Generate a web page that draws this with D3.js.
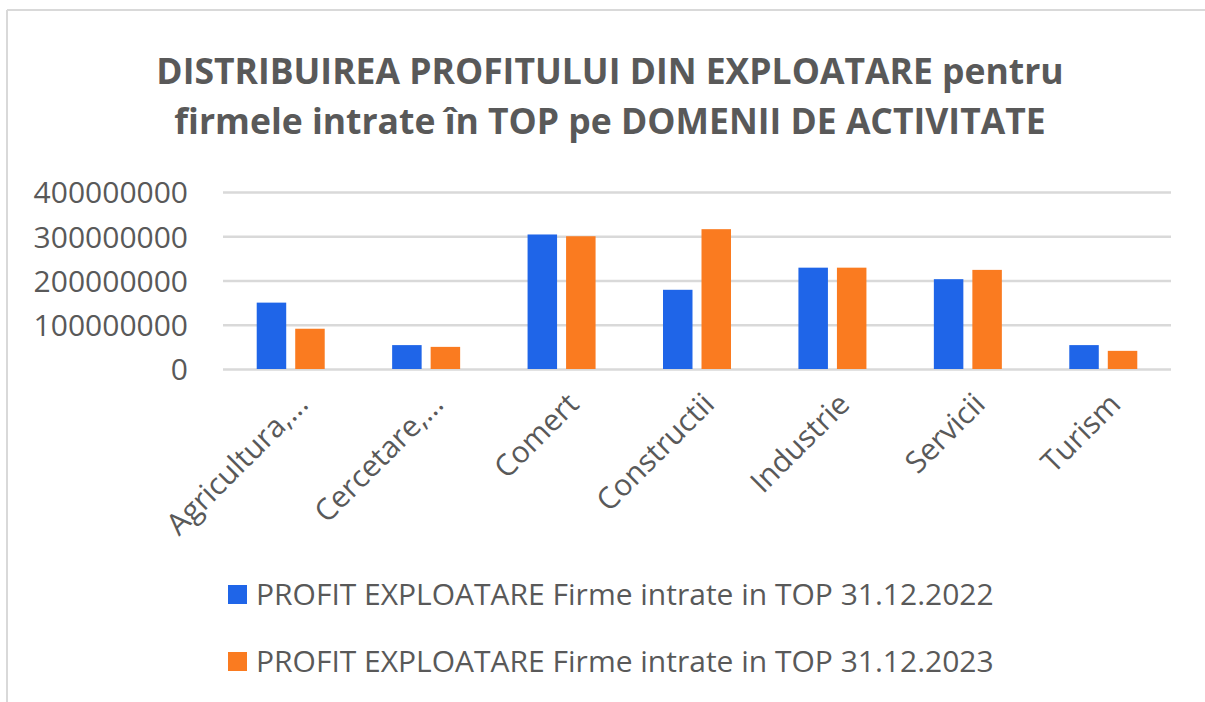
<!DOCTYPE html>
<html>
<head>
<meta charset="utf-8">
<script src="https://cdn.jsdelivr.net/npm/d3@7"></script>
<style>
  body { margin: 0; background: #fff; }
  svg { display: block; font-family: "Open Sans", sans-serif; }
</style>
</head>
<body>
<svg id="chart" width="1205" height="702"></svg>
<script>
// chart values
var categories = ["Agricultura,...", "Cercetare,...", "Comert", "Constructii", "Industrie", "Servicii", "Turism"];
var seriesNames = ["PROFIT EXPLOATARE Firme intrate in TOP 31.12.2022", "PROFIT EXPLOATARE Firme intrate in TOP 31.12.2023"];
var profit2022 = [150000000, 54000000, 304000000, 179000000, 229000000, 203000000, 54000000];
var profit2023 = [91000000, 50000000, 300000000, 316000000, 229000000, 224000000, 41000000];
var yTicks = [0, 100000000, 200000000, 300000000, 400000000];
var titleLines = ["DISTRIBUIREA PROFITULUI DIN EXPLOATARE pentru", "firmele intrate în TOP pe DOMENII DE ACTIVITATE"];

var colors = ["#1f65e8", "#fa7b20"];
var textColor = "#595959";

let chart = d3.select("#chart");

// outer frame (top + left edge like the cropped screenshot)
chart.append("line").attr("x1", 7).attr("x2", 1205).attr("y1", 10).attr("y2", 10)
    .attr("stroke", "#d9d9d9").attr("stroke-width", 2);
chart.append("line").attr("x1", 7).attr("x2", 7).attr("y1", 10).attr("y2", 702)
    .attr("stroke", "#d9d9d9").attr("stroke-width", 2);

// title
chart.selectAll(".title")
    .data(titleLines).enter()
    .append("text")
        .attr("class", "title")
        .attr("x", 610)
        .attr("y", function(d, i) { return 84 + i * 50; })
        .attr("text-anchor", "middle")
        .attr("font-size", "35.5px")
        .attr("font-weight", "bold")
        .attr("fill", textColor)
        .text(function(d) { return d; });

xScale = d3.scaleBand()
    .domain(categories)
    .range([223, 1171]);

xInner = d3.scaleBand()
    .domain([0, 1])
    .range([xScale.bandwidth() / 2 - 34, xScale.bandwidth() / 2 + 34])
    .paddingInner(0.234);

yScale = d3.scaleLinear()
    .domain([0, 400000000])
    .range([369, 192]);

// gridlines
chart.append("g")
    .attr("transform", "translate(223,0)")
    .call(d3.axisLeft(yScale).tickValues(yTicks).tickSize(-(1171 - 223)).tickFormat(""))
    .call(function(g) {
        g.select(".domain").remove();
        g.selectAll("line").attr("stroke", "#d9d9d9").attr("stroke-width", 2.5);
    });

// y labels
chart.append("g")
    .attr("transform", "translate(188,0)")
    .call(d3.axisLeft(yScale).tickValues(yTicks).tickSize(0).tickPadding(0).tickFormat(d3.format("d")))
    .call(function(g) {
        g.select(".domain").remove();
        g.selectAll("text").attr("fill", textColor).attr("font-size", "30px")
            .attr("font-family", "Open Sans, sans-serif").attr("dy", "0.36em");
    });

// bars
var rows = categories.map(function(c, i) { return {cat: c, values: [profit2022[i], profit2023[i]]}; });

var groups = chart.selectAll(".grp")
    .data(rows).enter()
    .append("g")
        .attr("class", "grp")
        .attr("transform", function(d) { return "translate(" + xScale(d.cat) + ",0)"; });

groups.selectAll("rect")
    .data(function(d) { return d.values; }).enter()
    .append("rect")
        .attr("x", function(d, i) { return xInner(i); })
        .attr("y", function(d) { return yScale(d); })
        .attr("width", xInner.bandwidth())
        .attr("height", function(d) { return yScale(0) - yScale(d); })
        .attr("fill", function(d, i) { return colors[i]; });

// category labels
chart.append("g")
    .attr("transform", "translate(0,369)")
    .call(d3.axisBottom(xScale).tickSize(0).tickPadding(0))
    .call(function(g) {
        g.select(".domain").remove();
        g.selectAll("text")
            .attr("fill", textColor)
            .attr("font-size", "30px")
            .attr("font-family", "Open Sans, sans-serif")
            .attr("text-anchor", "end")
            .attr("transform", "translate(19,37) rotate(-45)")
            .attr("dy", 0)
            .attr("y", 0);
    });

// legend
var legend = chart.selectAll(".legend")
    .data(seriesNames).enter()
    .append("g")
        .attr("class", "legend")
        .attr("transform", function(d, i) { return "translate(228," + (585 + i * 67) + ")"; });

legend.append("rect")
    .attr("width", 19).attr("height", 19)
    .attr("fill", function(d, i) { return colors[i]; });

legend.append("text")
    .attr("x", 28)
    .attr("y", 9.5)
    .attr("dy", "0.36em")
    .attr("font-size", "30px")
    .attr("fill", textColor)
    .text(function(d) { return d; });
</script>
</body>
</html>
